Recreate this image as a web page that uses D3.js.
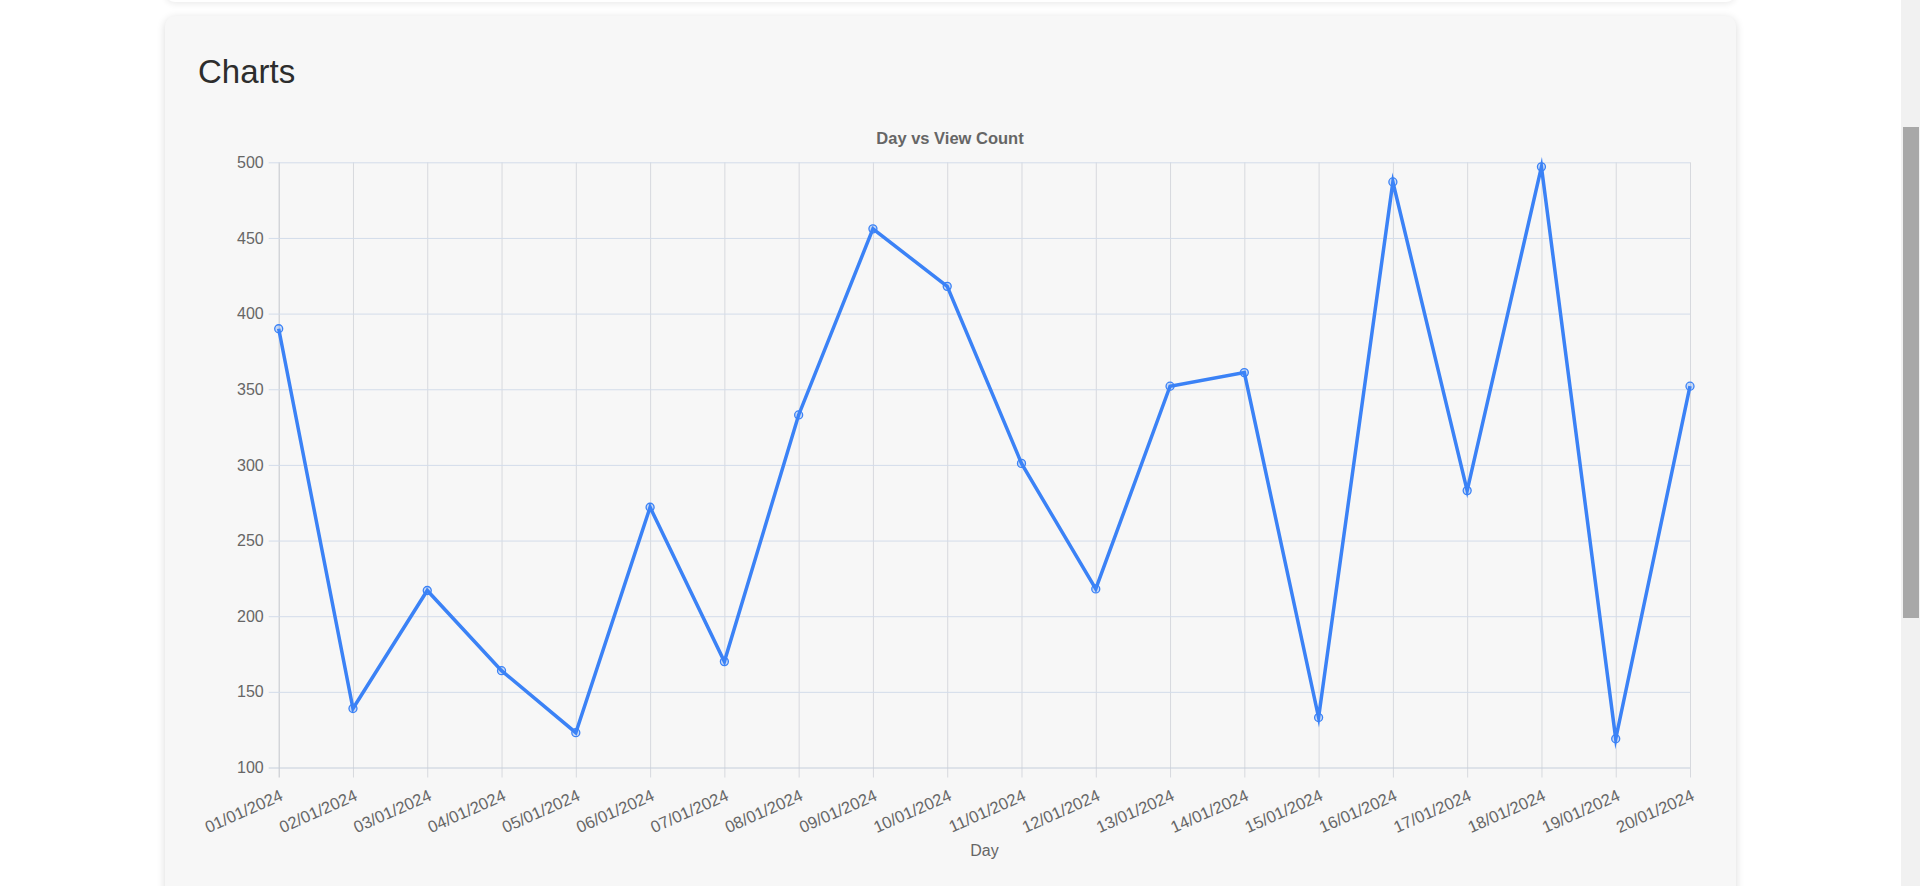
<!DOCTYPE html>
<html>
<head>
<meta charset="utf-8">
<script src="https://cdn.jsdelivr.net/npm/d3@7/dist/d3.min.js"></script>
<style>
  html, body { margin: 0; padding: 0; width: 1920px; height: 886px; overflow: hidden; background: #ffffff; font-family: "Liberation Sans", Arial, Helvetica, sans-serif; }
  #topcard { position: absolute; left: 165px; top: -60px; width: 1571px; height: 62px; background: #ffffff; border-radius: 10px; box-shadow: 0 2px 6px rgba(0,0,0,0.08); }
  #card { position: absolute; left: 165px; top: 16px; width: 1571px; height: 1000px; background: #f7f7f7; border-radius: 10px; box-shadow: 0 2px 8px rgba(0,0,0,0.15); }
  #track { position: absolute; left: 1901px; top: 0; width: 19px; height: 886px; background: #f1f1f1; }
  #thumb { position: absolute; left: 1903px; top: 127px; width: 16px; height: 491px; background: #a8a8a8; }
  svg { position: absolute; left: 0; top: 0; }
</style>
</head>
<body>
<div id="topcard"></div>
<div id="card"></div>
<div id="track"></div>
<div id="thumb"></div>
<svg id="chart" width="1900" height="886"></svg>
<script>
const categories = ["01/01/2024","02/01/2024","03/01/2024","04/01/2024","05/01/2024","06/01/2024","07/01/2024","08/01/2024","09/01/2024","10/01/2024","11/01/2024","12/01/2024","13/01/2024","14/01/2024","15/01/2024","16/01/2024","17/01/2024","18/01/2024","19/01/2024","20/01/2024"];
const viewCounts = [390, 139, 217, 164, 123, 272, 170, 333, 456, 418, 301, 218, 352, 361, 133, 487, 283, 497, 119, 352];
const yTicks = [100, 150, 200, 250, 300, 350, 400, 450, 500];
const chartTitle = "Day vs View Count";
const xAxisTitle = "Day";
const pageHeading = "Charts";

(function () {
const svg = d3.select("#chart");
const pLeft = 278.7, pRight = 1690, pTop = 162.3, pBottom = 767.5;
const font = '"Liberation Sans", Arial, Helvetica, sans-serif';

const x = d3.scalePoint().domain(categories).range([pLeft, pRight]);
const y = d3.scaleLinear().domain([100, 500]).range([pBottom, pTop]);

// heading
svg.append("text").attr("x", 198).attr("y", 82.5)
  .attr("font-family", font).attr("font-size", 33).attr("fill", "#2d2d2d")
  .text(pageHeading);

// title
svg.append("text").attr("x", 950).attr("y", 143.5).attr("text-anchor", "middle")
  .attr("font-family", font).attr("font-size", 16.5).attr("font-weight", "bold").attr("fill", "#666")
  .text(chartTitle);

// vertical grid (x axis)
const xg = svg.append("g").attr("transform", `translate(0,${pBottom + 10})`)
  .call(d3.axisBottom(x).tickSizeInner(-(pBottom + 10 - pTop)).tickSizeOuter(0).tickFormat(""));
xg.select(".domain").remove();
xg.selectAll(".tick line").attr("stroke", "#d7d9de").attr("stroke-width", 1);
xg.selectAll(".tick").filter((d, i) => i === 0).select("line").attr("stroke", "#c2c5cb");

// horizontal grid (y axis)
const yg = svg.append("g").attr("transform", `translate(${pLeft - 10},0)`)
  .call(d3.axisLeft(y).tickValues(yTicks).tickSizeInner(-(pRight - pLeft + 10)).tickSizeOuter(0).tickPadding(5));
yg.select(".domain").remove();
yg.selectAll(".tick line").attr("stroke", "#d3dcea").attr("stroke-width", 1);
yg.selectAll(".tick").filter(d => d === 100).select("line").attr("stroke", "#c5cedb");
yg.selectAll(".tick text").attr("font-family", font).attr("font-size", 16).attr("fill", "#666");

// x labels rotated
const xl = svg.append("g");
xl.selectAll("text").data(categories).join("text")
  .attr("transform", d => `translate(${x(d) + 0.5},${pBottom + 21}) rotate(-24)`)
  .attr("text-anchor", "end")
  .attr("dy", "0.72em")
  .attr("font-family", font).attr("font-size", 16.6).attr("fill", "#666")
  .text(d => d);

// x axis title
svg.append("text").attr("x", 984.5).attr("y", 856).attr("text-anchor", "middle")
  .attr("font-family", font).attr("font-size", 16).attr("fill", "#666")
  .text(xAxisTitle);

// line
const data = categories.map((c, i) => ({ c, v: viewCounts[i] }));
svg.append("path").datum(data)
  .attr("d", d3.line().x(d => x(d.c)).y(d => y(d.v)))
  .attr("fill", "none").attr("stroke", "#3b82f6").attr("stroke-width", 3.5)
  .attr("stroke-linejoin", "miter").attr("stroke-miterlimit", 10);

// points
svg.append("g").selectAll("circle").data(data).join("circle")
  .attr("cx", d => x(d.c)).attr("cy", d => y(d.v)).attr("r", 4)
  .attr("fill", "rgba(59,130,246,0.25)").attr("stroke", "#3b82f6").attr("stroke-width", 1.3);
})();
</script>
</body>
</html>
